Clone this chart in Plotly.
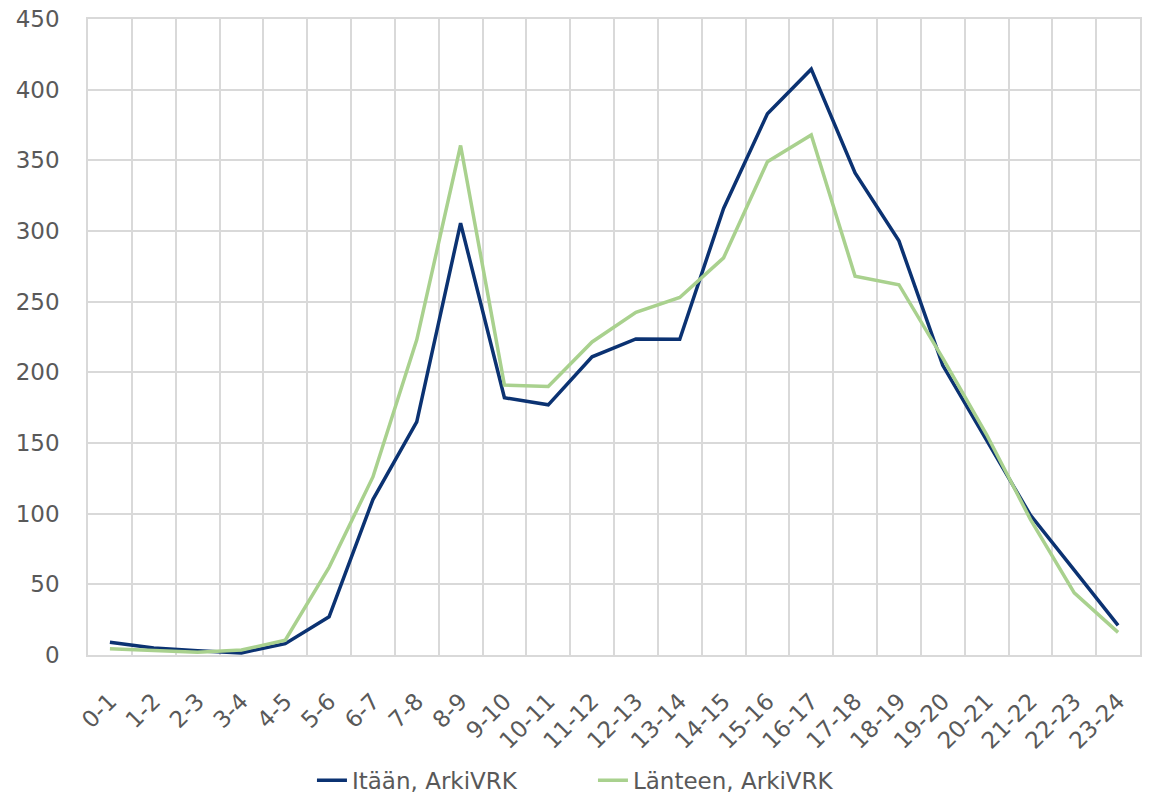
import plotly.graph_objects as go

hours = ["0-1", "1-2", "2-3", "3-4", "4-5", "5-6", "6-7", "7-8", "8-9", "9-10",
         "10-11", "11-12", "12-13", "13-14", "14-15", "15-16", "16-17", "17-18",
         "18-19", "19-20", "20-21", "21-22", "22-23", "23-24"]

itaan = [9, 5, 3, 1.5, 8, 27, 110, 165, 305.5, 182, 177, 211, 223.6, 223.4,
         316, 383, 414.5, 341, 293, 205, 152, 99, 60, 21]

lanteen = [4.5, 3.5, 2, 3.5, 10.5, 62, 126, 223, 360.5, 191, 190, 221.5, 242.5, 253,
           281, 349, 368, 268, 262, 210, 156, 96, 44, 16]

series_names = ["Itään, ArkiVRK", "Länteen, ArkiVRK"]
y_ticks = [0, 50, 100, 150, 200, 250, 300, 350, 400, 450]

FONT = "Verdana, DejaVu Sans, sans-serif"
GRID = "#d9d9d9"
TXT = "#595959"
FS = 23

fig = go.Figure()
fig.add_trace(go.Scatter(x=hours, y=itaan, mode="lines", name=series_names[0],
                         line=dict(color="#0b3272", width=3.5)))
fig.add_trace(go.Scatter(x=hours, y=lanteen, mode="lines", name=series_names[1],
                         line=dict(color="#a9d18e", width=3.5)))

fig.update_layout(
    width=1150, height=799,
    margin=dict(l=88, r=10, t=19, b=144, autoexpand=False),
    paper_bgcolor="white", plot_bgcolor="white",
    font=dict(family=FONT, size=FS, color=TXT),
    showlegend=True,
    legend=dict(orientation="h", x=0.48, xanchor="center", y=-0.197, yanchor="middle",
                font=dict(family=FONT, size=FS, color=TXT),
                entrywidth=236, entrywidthmode="pixels"),
)

fig.update_xaxes(
    type="category", range=[-0.5, 23.5], tickson="boundaries",
    showgrid=True, gridcolor=GRID, gridwidth=1.5,
    showline=True, linecolor=GRID, linewidth=1.5, mirror=True,
    ticks="", tickangle=-45, ticklabelstandoff=22,
    tickfont=dict(family=FONT, size=FS, color=TXT),
    zeroline=False, automargin=False, ticklabeloverflow="allow",
)
fig.update_yaxes(
    range=[0, 450], tickvals=y_ticks, ticktext=[str(v) for v in y_ticks],
    showgrid=True, gridcolor=GRID, gridwidth=1.5,
    showline=True, linecolor=GRID, linewidth=1.5, mirror=True,
    ticks="", ticklabelstandoff=22,
    tickfont=dict(family=FONT, size=FS, color=TXT),
    zeroline=False, automargin=False, ticklabeloverflow="allow",
)

fig.write_html("out.html", config={"displayModeBar": False},
               post_script="document.body.style.margin='0';")
